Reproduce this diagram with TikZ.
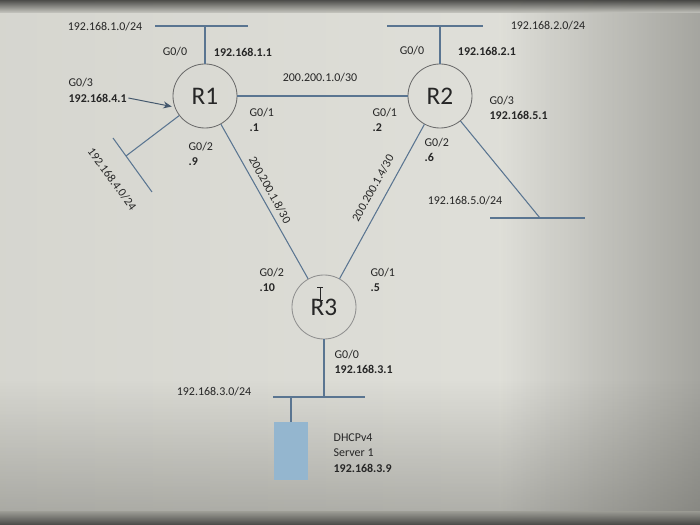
\documentclass[tikz,border=0pt]{standalone}
\usepackage{fontspec}
\setmainfont{Carlito}
\usetikzlibrary{arrows.meta,positioning,calc,fadings}
\definecolor{Ink}{HTML}{262626}
\definecolor{Wire}{HTML}{5A7591}
\definecolor{Rim}{HTML}{6A6A6A}
\definecolor{Glow}{HTML}{F2F2EE}
\definecolor{Screen}{HTML}{E2E2DC}
\definecolor{Edge}{HTML}{C8C8C1}
\definecolor{Dim}{HTML}{96968F}
\definecolor{Dark}{HTML}{4A4A45}
\definecolor{Bezel}{HTML}{3E3E3C}
\definecolor{Box}{HTML}{94B6CF}

\begin{document}
\begin{tikzpicture}[x=0.025cm,y=-0.025cm,
  every node/.style={font=\fontsize{8.5}{11}\selectfont,text=Ink,inner sep=1pt},
  router/.style={circle,draw=Rim,line width=0.6pt,minimum size=1.6cm,inner sep=0pt,font=\fontsize{18}{18}\selectfont},
  wire/.style={draw=Wire,line width=0.75pt},
  ip/.style={font=\fontsize{8.5}{11}\selectfont\bfseries},
  lbl/.style={align=left,anchor=west}]
  % screen
  \begin{scope}
    \clip (0,0) rectangle (700,525);
    \shade[left color=Edge!60!Screen,middle color=Glow,right color=Screen] (-200,0) rectangle (700,525);
    \fill[Dark,opacity=0.4,path fading=west] (500,0) rectangle (700,525);
    \fill[Dark,opacity=0.35,path fading=north] (0,380) rectangle (700,525);
    \shade[top color=Bezel,bottom color=Edge,opacity=0.9] (0,0) rectangle (700,13);
    \shade[top color=Dim,bottom color=Bezel,opacity=0.9] (0,512) rectangle (700,525);
  \end{scope}
  \useasboundingbox (0,0) rectangle (700,525);

  % routers and server
  \node[router] (R1) at (205,96) {R1};
  \node[router] (R2) at (440,96) {R2};
  \node[router,draw=Rim!75] (R3) at (324,307) {R3};
  \node[fill=Box,minimum width=0.85cm,minimum height=1.45cm] (srv) at (291,451) {};

  % LAN bars
  \coordinate (n1a) at (155,26); \coordinate (n1b) at (248,26);
  \coordinate (n2a) at (387,26); \coordinate (n2b) at (483,26);
  \coordinate (n4a) at (113,138); \coordinate (n4b) at (152,192);
  \coordinate (n4m) at (126,156);
  \coordinate (n5a) at (490,218); \coordinate (n5b) at (585,218);
  \coordinate (n5m) at (540,218);
  \coordinate (n3a) at (273,397); \coordinate (n3b) at (365,397);
  \foreach \a/\b in {n1a/n1b,n2a/n2b,n4a/n4b,n5a/n5b,n3a/n3b}
    \draw[wire] (\a) -- (\b);

  % links
  \foreach \u/\v in {R1/R2,R1/R3,R2/R3,R1/n4m,R2/n5m}
    \draw[wire] (\u) -- (\v);
  \draw[wire] (R1) -- (R1 |- n1a);
  \draw[wire] (R2) -- (R2 |- n2a);
  \draw[wire] (R3) -- (R3 |- n3a);
  \draw[wire] (srv) -- (srv |- n3a);

  % R1
  \node at (105,27) {192.168.1.0/24};
  \node at (175,52) {G0/0};
  \node[ip] at (243,52) {192.168.1.1};
  \node at (320,78) {200.200.1.0/30};
  \node[lbl] at (248,120) {G0/1\\\textbf{.1}};
  \node[lbl] at (187,154) {G0/2\\\textbf{.9}};
  \node[anchor=west] at (67,83) {G0/3};
  \node[ip,anchor=west] (a41) at (67,98) {192.168.4.1};
  \draw[-{Stealth[length=6pt,width=5pt]},draw=Wire!75!black,line width=0.7pt,shorten >=2pt] (a41.east) -- (R1.200);
  \node[rotate=-54] at (112,179) {192.168.4.0/24};

  % R2
  \node at (548,26) {192.168.2.0/24};
  \node at (412,51) {G0/0};
  \node[ip] at (487,51) {192.168.2.1};
  \node[lbl] at (371,120) {G0/1\\\textbf{.2}};
  \node[lbl] at (423,150) {G0/2\\\textbf{.6}};
  \node[lbl] at (488,108) {G0/3\\\textbf{192.168.5.1}};
  \node at (465,201) {192.168.5.0/24};

  % R1-R3, R2-R3
  \node[rotate=-61] at (270,190) {200.200.1.8/30};
  \node[rotate=61] at (373,188) {200.200.1.4/30};

  % R3
  \node[lbl] at (258,280) {G0/2\\\textbf{.10}};
  \node[lbl] at (369,280) {G0/1\\\textbf{.5}};
  \node[lbl] at (333,362) {G0/0\\\textbf{192.168.3.1}};
  \node at (214,392) {192.168.3.0/24};
  \node[lbl] at (332,453) {DHCPv4\\Server 1\\\textbf{192.168.3.9}};
  \draw[Ink,line width=0.6pt] (320,287) -- (320,300) (317,287) -- (323,287) (317,300) -- (323,300);
\end{tikzpicture}
\end{document}
